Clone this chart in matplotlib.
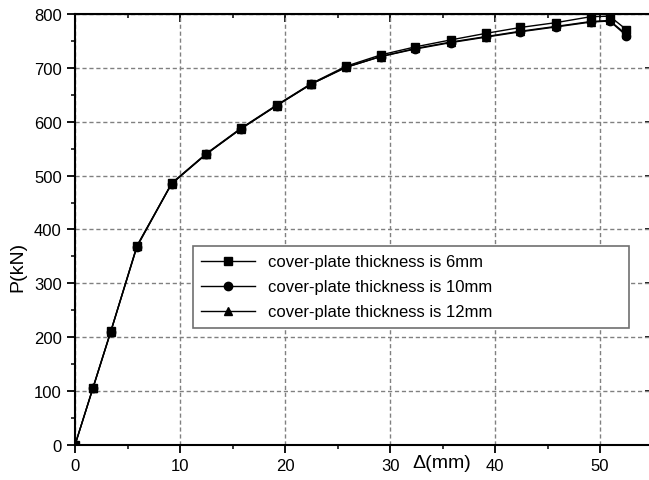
import matplotlib
matplotlib.use("Agg")
import matplotlib.pyplot as plt
from matplotlib.ticker import MultipleLocator

plt.rcParams['font.family'] = ['Liberation Sans', 'DejaVu Sans']

# load-displacement readings, shared displacement steps
disp = [0, 1.7, 3.4, 5.9, 9.2, 12.5, 15.8, 19.2, 22.5, 25.8, 29.1, 32.4,
        35.8, 39.1, 42.4, 45.8, 49.1, 50.9, 52.5]
p_6mm = [0, 106, 211, 369, 486, 541, 588, 631, 671, 703, 724, 739,
         752, 764, 775, 784, 795, 796, 771]
p_10mm = [0, 105, 210, 368, 485, 540, 587, 630, 670, 701, 721, 735,
          747, 757, 767, 776, 785, 787, 760]
p_12mm = [0, 105, 210, 370, 485, 540, 587, 630, 670, 701, 721, 736,
          748, 758, 768, 777, 786, 788, 762]
labels = ["cover-plate thickness is 6mm",
          "cover-plate thickness is 10mm",
          "cover-plate thickness is 12mm"]

fig = plt.figure(figsize=(6.49, 4.81), dpi=100)
ax = fig.add_axes([0.1156, 0.0728, 0.890, 0.896])

kw = dict(color="black", lw=1.0, markersize=6)
l12, = ax.plot(disp, p_12mm, marker="^", label=labels[2], **kw)
l10, = ax.plot(disp, p_10mm, marker="o", label=labels[1], **kw)
l6, = ax.plot(disp, p_6mm, marker="s", label=labels[0], **kw)

ax.set_xlim(0, 55)
ax.set_ylim(0, 800)
ax.xaxis.set_major_locator(MultipleLocator(10))
ax.xaxis.set_minor_locator(MultipleLocator(5))
ax.yaxis.set_major_locator(MultipleLocator(100))
ax.yaxis.set_minor_locator(MultipleLocator(50))
ax.grid(True, which="major", color="#808080", ls=(0, (3, 2)), lw=1.0)

for s in ax.spines.values():
    s.set_linewidth(1.5)
ax.tick_params(which="major", direction="out", length=6, width=1.3, labelsize=12)
ax.tick_params(which="minor", direction="out", length=3, width=1.1)

# mirrored ticks on top and right, pointing inward
top = ax.secondary_xaxis("top")
top.xaxis.set_major_locator(MultipleLocator(10))
top.xaxis.set_minor_locator(MultipleLocator(5))
top.tick_params(which="major", direction="in", length=6, width=1.3, labeltop=False)
top.tick_params(which="minor", direction="in", length=3, width=1.1)
right = ax.secondary_yaxis("right")
right.yaxis.set_major_locator(MultipleLocator(100))
right.yaxis.set_minor_locator(MultipleLocator(50))
right.tick_params(which="major", direction="in", length=6, width=1.3, labelright=False)
right.tick_params(which="minor", direction="in", length=3, width=1.1)

ax.set_ylabel("P(kN)", fontsize=14)
ax.yaxis.set_label_coords(-0.085, 0.415)
ax.text(34.9, -33, "Δ(mm)", fontsize=14, ha="center", va="center", clip_on=False)

leg = ax.legend([l6, l10, l12], labels, loc="upper left",
                bbox_to_anchor=(0.204, 0.2760, 0.755, 0.1857), mode="expand",
                fontsize=12, handlelength=3.2, labelspacing=0.6,
                borderpad=0.5, borderaxespad=0.0, handletextpad=0.8,
                fancybox=False, framealpha=1.0, edgecolor="#707070")
leg.get_frame().set_linewidth(1.2)

fig.savefig("out.png", dpi=100)
